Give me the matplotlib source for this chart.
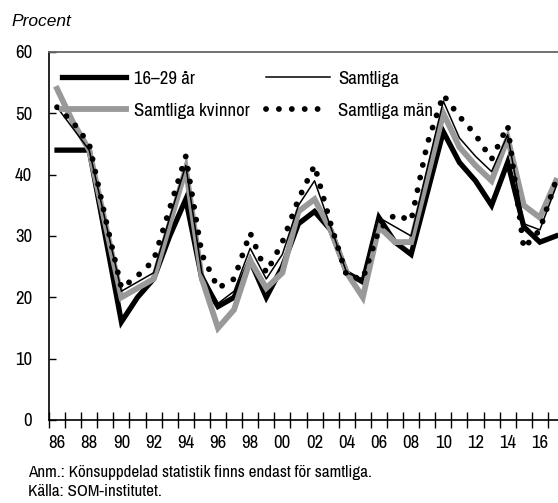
import matplotlib
matplotlib.use("Agg")
import matplotlib.pyplot as plt
from matplotlib import font_manager as fm

names = sorted({f.name for f in fm.fontManager.ttflist})
cond = [n for n in names if "Narrow" in n or "Condensed" in n]
COND = cond[0] if cond else "DejaVu Sans"

years = list(range(1986, 2018))
tick_labels = ["86", "88", "90", "92", "94", "96", "98", "00", "02", "04", "06", "08", "10", "12", "14", "16"]

ung = [44, 44, 44, 30, 16, 20, 23, 30, 36, 23, 18.5, 20, 26, 20, 25, 32,
       34, 31, 24, 22.5, 33, 29, 27, 37, 47, 42, 39, 35, 42, 31.5, 29, 30]
samtliga = [51, 47.5, 44, 32.5, 21, 22.5, 24, 33, 41.5, 24, 19, 21, 28, 23, 27, 35,
            39, 31.5, 24, 23, 33, 31.5, 30, 41, 52, 46, 43, 40.5, 46.5, 32, 31, 38]
kvinnor = [54, 48.5, 44, 32, 20, 21.5, 23, 32, 41, 23, 15, 18, 26, 21.5, 24, 34,
           36, 31, 24, 20, 31.5, 29, 29, 39.5, 50, 44.5, 41.5, 39, 46, 35, 33, 39]
man = [51, 48.5, 45, 33, 21.5, 23.5, 26, 34.5, 43, 27, 21.5, 23, 30.5, 24, 29, 36,
       41.5, 32, 23.5, 23, 31, 33.5, 32.5, 45, 53, 49.5, 46.5, 42.5, 48, 28, 31, 39]

labels = ["16–29 år", "Samtliga", "Samtliga kvinnor", "Samtliga män"]

W, H = 558, 503
fig = plt.figure(figsize=(W / 100, H / 100), dpi=100)
left, right, top, bottom = 49, 564, 52, 420
ax = fig.add_axes([left / W, 1 - bottom / H, (right - left) / W, (bottom - top) / H])

x = list(range(len(years)))
l_ung, = ax.plot(x, ung, color="black", lw=3.8, solid_joinstyle="miter", zorder=2)
l_kv, = ax.plot(x, kvinnor, color="#999999", lw=4.2, solid_joinstyle="miter", zorder=3)
l_sa, = ax.plot(x, samtliga, color="black", lw=1.1, zorder=4)
l_ma, = ax.plot(x, man, color="black", lw=4.2, linestyle=(0, (0.01, 2.2)),
                dash_capstyle="round", zorder=5)

ax.set_xlim(-0.5, len(years) - 0.5)
ax.set_ylim(0, 60)
ax.set_yticks(range(0, 61, 10))
ax.tick_params(axis="y", direction="in", length=5, width=1, pad=12, labelsize=13.5)
for lab in ax.get_yticklabels():
    lab.set_fontfamily(COND)

ax.set_xticks([i - 0.5 for i in range(len(years) + 1)])
ax.set_xticklabels([])
ax.tick_params(axis="x", which="major", direction="inout", length=11, width=1)
ax.set_xticks(list(range(0, len(years), 2)), minor=True)
ax.set_xticklabels(tick_labels, minor=True, fontfamily=COND, fontsize=13.5)
ax.tick_params(axis="x", which="minor", length=0, pad=11)

for s in ["left", "bottom"]:
    ax.spines[s].set_color("black")
    ax.spines[s].set_linewidth(1.2)
ax.spines["top"].set_color("#666666")
ax.spines["top"].set_linewidth(1.3)
ax.spines["right"].set_visible(False)

leg = ax.legend([l_ung, l_kv, l_sa, l_ma], [labels[0], labels[2], labels[1], labels[3]],
                ncol=2, frameon=False, loc="upper left", bbox_to_anchor=(0.0, 0.985),
                prop={"family": COND, "size": 13.5}, handlelength=3.4, handletextpad=0.45,
                columnspacing=0.85, labelspacing=0.86, borderaxespad=0.3)

fig.text(11 / W, 1 - 21 / H, "Procent", fontstyle="italic", fontfamily="Liberation Sans",
         fontsize=12.5, va="center", ha="left")
fig.text(28 / W, 1 - 472 / H, "Anm.: Könsuppdelad statistik finns endast för samtliga.",
         fontfamily=COND, fontsize=12.3, va="center", ha="left")
fig.text(28 / W, 1 - 492 / H, "Källa: SOM-institutet.",
         fontfamily=COND, fontsize=12.3, va="center", ha="left")

fig.savefig("out.png", dpi=100)
